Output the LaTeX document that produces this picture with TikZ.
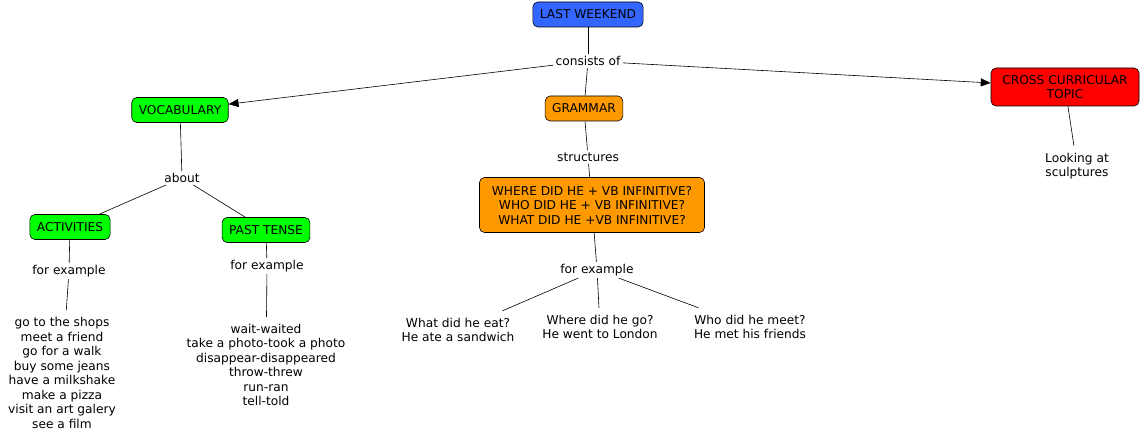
\documentclass[tikz,border=0pt]{standalone}
\usepackage{fontspec}
\setmainfont{DejaVu Sans}
\usetikzlibrary{arrows.meta}
\definecolor{wkblue}{RGB}{51,102,255}
\definecolor{wkgreen}{RGB}{0,255,0}
\definecolor{wkorange}{RGB}{255,153,0}
\definecolor{wkred}{RGB}{255,0,0}
\begin{document}
\begin{tikzpicture}[x=1pt, y=-1pt,
    every node/.style={font=\fontsize{12.2}{14.5}\selectfont, align=center},
    concept/.style={draw, rounded corners=5pt, line width=0.6pt, minimum height=25pt, inner xsep=7pt},
    phrase/.style={fill=white, inner sep=2pt},
    leaf/.style={inner xsep=2pt, inner ysep=7pt},
    link/.style={line width=0.6pt},
    arrowlink/.style={link, -{Triangle[length=10pt, width=8pt]}}]
    \useasboundingbox (0,0) rectangle (1140,438);
    % Concepts
    \node[concept, fill=wkblue] (weekend) at (588,14.5) {LAST WEEKEND};
    \node[concept, fill=wkgreen] (vocab) at (180,110) {VOCABULARY};
    \node[concept, fill=wkorange] (grammar) at (584,108.5) {GRAMMAR};
    \node[concept, fill=wkred, minimum width=148pt, minimum height=38pt] (cross) at (1065,87) {CROSS CURRICULAR\\TOPIC};
    \node[concept, fill=wkgreen] (activ) at (70,227) {ACTIVITIES};
    \node[concept, fill=wkgreen] (past) at (266,230) {PAST TENSE};
    \node[concept, fill=wkorange, minimum width=225pt, minimum height=55pt] (quest) at (592,205) {WHERE DID HE + VB INFINITIVE?\\WHO DID HE + VB INFINITIVE?\\WHAT DID HE +VB INFINITIVE?};

    % Linking phrases
    \node[phrase] (consists) at (588,61) {consists of};
    \node[phrase] (about) at (182,178) {about};
    \node[phrase] (struct) at (588,157) {structures};
    \node[phrase] (exact) at (69,271) {for example};
    \node[phrase] (expast) at (267,266) {for example};
    \node[phrase] (exquest) at (597,270) {for example};

    % Examples
    \node[leaf] (actlist) at (62,373) {go to the shops\\meet a friend\\go for a walk\\buy some jeans\\have a milkshake\\make a pizza\\visit an art galery\\see a film};
    \node[leaf] (pastlist) at (266,365) {wait-waited\\take a photo-took a photo\\disappear-disappeared\\throw-threw\\run-ran\\tell-told};
    \node[leaf] (eat) at (458,330) {What did he eat?\\He ate a sandwich};
    \node[leaf] (go) at (600,327) {Where did he go?\\He went to London};
    \node[leaf] (meet) at (750,327) {Who did he meet?\\He met his friends};
    \node[leaf] (sculpt) at (1077,166) {Looking at\\sculptures};

    % Connectors
    \draw[link] (weekend) -- (consists);
    \draw[arrowlink] (consists) -- (vocab);
    \draw[link] (consists) -- (grammar);
    \draw[arrowlink] (consists) -- (cross);
    \draw[link] (vocab) -- (about);
    \draw[link] (about) -- (activ);
    \draw[link] (about) -- (past);
    \draw[link] (activ) -- (exact);
    \draw[link] (exact) -- (actlist);
    \draw[link] (past) -- (expast);
    \draw[link] (expast) -- (pastlist);
    \draw[link] (grammar) -- (struct);
    \draw[link] (struct) -- (quest);
    \draw[link] (quest) -- (exquest);
    \draw[link] (exquest) -- (eat);
    \draw[link] (exquest) -- (go);
    \draw[link] (exquest) -- (meet);
    \draw[link] (cross) -- (sculpt);
\end{tikzpicture}
\end{document}
